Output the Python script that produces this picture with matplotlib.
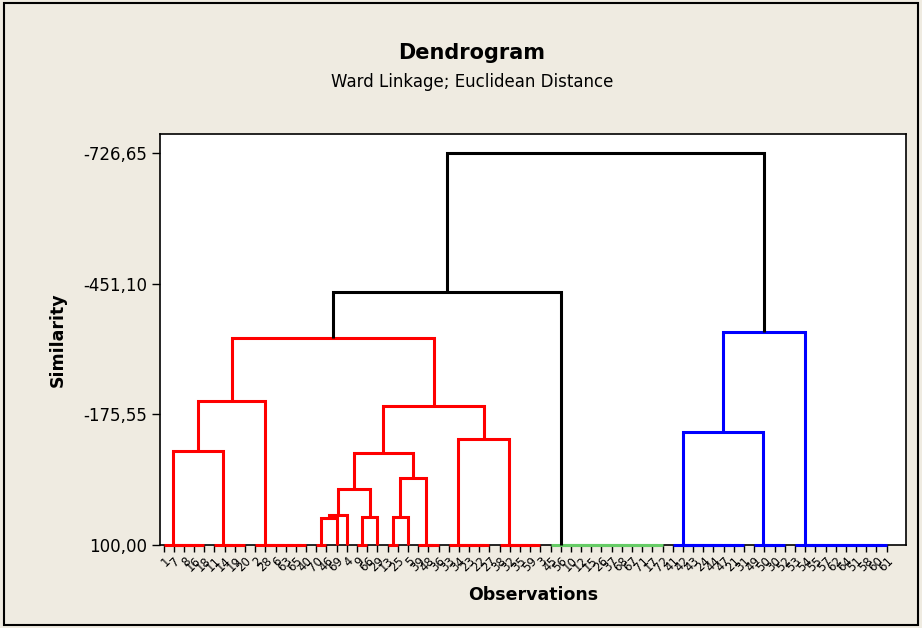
import matplotlib
matplotlib.use("Agg")
import matplotlib.pyplot as plt
from matplotlib.patches import Rectangle

# observation labels in dendrogram order (left to right)
labels = [1, 7, 8, 16, 18, 11, 14, 19, 20, 2, 28, 6, 63, 65, 40, 70, 46, 69, 4,
          9, 66, 29, 13, 25, 5, 39, 48, 36, 33, 34, 23, 22, 27, 38, 32, 35, 59, 3,
          45, 56, 10, 12, 15, 26, 37, 68, 67, 71, 17, 72,
          41, 42, 43, 24, 44, 47, 21, 31, 49, 50, 30, 52, 53, 54, 55, 57, 62, 64,
          51, 58, 60, 61]

# runs of identical observations (joined at similarity 100), first/last leaf index
flat_groups = {'A': (0, 4), 'B': (5, 8), 'C': (9, 14), 'D': (15, 16),
               'E': (19, 20), 'F': (22, 23), 'G': (25, 27), 'H': (28, 32),
               'I': (33, 37), 'green': (38, 49), 'J': (50, 57), 'K': (58, 61),
               'L': (62, 71)}

# higher joins: (new cluster, left, right, similarity level)
joins = [('D17', 'D', 17, 42.4),
         ('D18', 'D17', 18, 36.7),
         ('E21', 'E', 21, 40.3),
         ('F24', 'F', 24, 41.0),
         ('M1', 'D18', 'E21', -18.1),
         ('M2', 'F24', 'G', -41.3),
         ('M3', 'M1', 'M2', -94.0),
         ('M4', 'H', 'I', -123.5),
         ('M5', 'M3', 'M4', -193.1),
         ('M6', 'A', 'B', -98.2),
         ('M7', 'M6', 'C', -203.7),
         ('red', 'M7', 'M5', -336.5),
         ('M8', 'red', 'green', -433.5),
         ('M9', 'J', 'K', -138.3),
         ('blue', 'M9', 'L', -349.2),
         ('root', 'M8', 'blue', -726.65)]

cluster_colors = {'red': '#FF0000', 'green': '#66CC66', 'blue': '#0000FF'}

yticks = [100.0, -175.55, -451.10, -726.65]
yticklabels = ['100,00', '-175,55', '-451,10', '-726,65']

# build the tree
children = {}
for name, (s, e) in flat_groups.items():
    prev = e
    for j in range(e - 1, s - 1, -1):
        node = name if j == s else name + str(j)
        children[node] = (j, prev, 100.0)
        prev = node
for name, l, r, h in joins:
    children[name] = (l, r, h)


def xpos(node):
    if isinstance(node, int):
        return node
    l, r, h = children[node]
    return (xpos(l) + xpos(r)) / 2


def ypos(node):
    if isinstance(node, int):
        return 100.0
    return children[node][2]


color = {}


def paint(node, c):
    if isinstance(node, int):
        return
    color[node] = c
    paint(children[node][0], c)
    paint(children[node][1], c)


for k, c in cluster_colors.items():
    paint(k, c)

fig = plt.figure(figsize=(9.22, 6.28), dpi=100)
fig.patch.set_facecolor('#EFEBE1')
fig.patches.append(Rectangle((0.004, 0.005), 0.992, 0.99, transform=fig.transFigure,
                             fill=False, edgecolor='black', lw=1.5))
ax = fig.add_axes([0.1735, 0.1322, 0.8091, 0.6544])
ax.set_facecolor('white')

for node, (l, r, h) in children.items():
    c = color.get(node, 'black')
    xl, xr = xpos(l), xpos(r)
    ax.plot([xl, xl, xr, xr], [ypos(l), h, h, ypos(r)], color=c, lw=2.2,
            clip_on=False, zorder=3, solid_joinstyle='miter', solid_capstyle='butt')

n = len(labels)
ax.set_xlim(-0.35, 72.9)
ax.set_ylim(100, -766.7)
ax.set_xticks(range(n))
ax.set_xticklabels([str(v) for v in labels], rotation=45, ha='right',
                   rotation_mode='anchor', fontsize=8.5)
ax.set_yticks(yticks)
ax.set_yticklabels(yticklabels, fontsize=12)
ax.tick_params(axis='x', direction='out', length=5, width=1, pad=2)
ax.tick_params(axis='y', direction='out', length=6, width=1, pad=3)
for sp in ax.spines.values():
    sp.set_linewidth(1.2)

ax.set_xlabel('Observations', fontsize=12.5, fontweight='bold', labelpad=8)
ax.set_ylabel('Similarity', fontsize=12.5, fontweight='bold', labelpad=12)
fig.text(0.512, 0.915, 'Dendrogram', ha='center', va='center', fontsize=15,
         fontweight='bold')
fig.text(0.512, 0.870, 'Ward Linkage; Euclidean Distance', ha='center',
         va='center', fontsize=12)

fig.savefig('out.png', dpi=100, facecolor=fig.get_facecolor())
